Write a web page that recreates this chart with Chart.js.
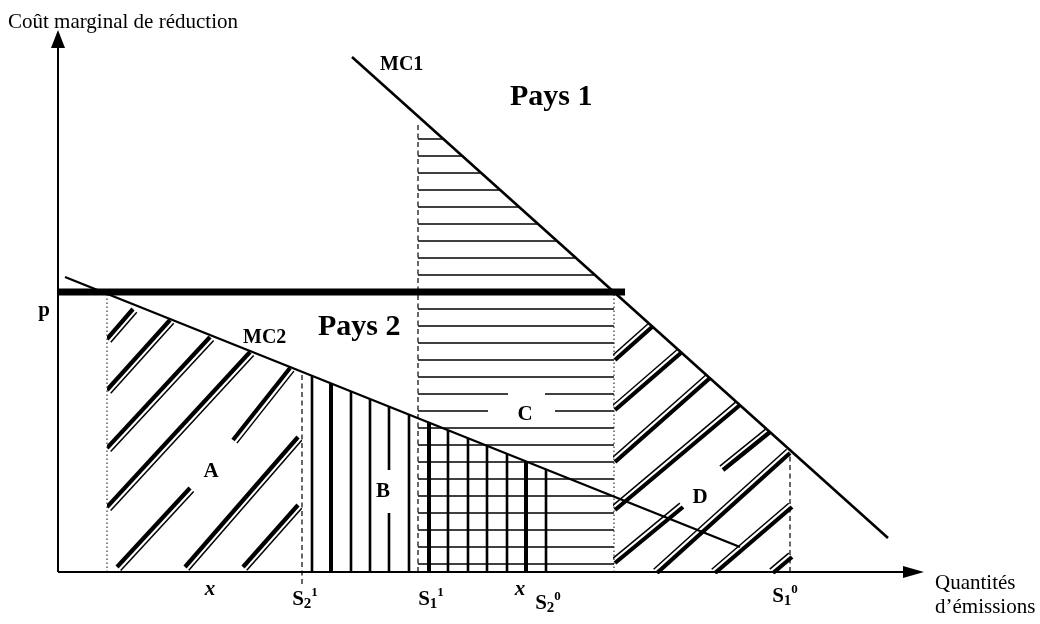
<!DOCTYPE html>
<html><head><meta charset="utf-8">
<script src="https://cdn.jsdelivr.net/npm/chart.js@4.4.1/dist/chart.umd.min.js"></script>
<style>html,body{margin:0;padding:0;background:#fff}canvas{display:block}</style>
</head><body>
<canvas id="c" width="1040" height="624"></canvas>
<script>
// ---------- data (x: quantités d'émissions, y: coût marginal) ----------
const mc1 = [{x:294,y:515},{x:830,y:34}];
const mc2 = [{x:7,y:295},{x:682,y:25}];
const priceLevel = 280;
const priceEndX = 567;
const dottedX = [49, 556];
const dottedTop = [278, 280];
const dashedX = [244, 360, 732];
const dashedTop = [200, 450, 118];
const dashedBottom = [-12, 0, 0];
// Zone C : horizontal hatch levels
const cLevels = [433,416,399,382,365,348,331,314,297,263,246,229,212,195,178,161,144,127,110,93,76,59,42,25,8];
const cGaps = [{y:178,x1:450,x2:487},{y:161,x1:430,x2:497}];
// Zone B : vertical hatch positions
const bLinesX = [254,273,293,312,331,351,371,390,410,429,449,468,488];
const bHeavyX = [273,371,468];
const bGaps = [{x:331,y1:59,y2:102}];
// Zone A : double diagonal hatch segments [x1,y1,x2,y2]
const hatchA = [[49,233,75,263],[49,182,112,252],[49,124,152,235],[49,65,192,220],
  [175,132,232,204],[59,5,132,84],[127,5,240,135],[185,5,240,67]];
// Zone D : double diagonal hatch segments [x1,y1,x2,y2]
const hatchD = [[557,212,594,245],[557,162,624,220],[557,110,652,194],[557,62,682,167],
  [665,102,712,140],[557,9,625,65],[599,-1,732,119],[657,-1,734,65],[715,-1,734,15]];
// axis marks
const markLabels = [['x'],['S','2','1'],['S','1','1'],['x'],['S','2','0'],['S','1','0']];
const markValues = [152,247,373,462,490,727];
const markDrop = [23,33,33,23,37,30];
// annotations [text, x, y(baseline), kind]
const annotations = [
  ['Coût marginal de réduction',-50,544,'axis'],
  ['Quantités',877,-17,'axis'],
  ['d\u2019émissions',877,-41,'axis'],
  ['p',-14,256,'lab'],
  ['MC1',322,502,'mc'],
  ['MC2',185,229,'mc'],
  ['Pays 1',452,467,'big'],
  ['Pays 2',260,237,'big'],
  ['A',153,95,'zone'],['B',325,75,'zone'],['C',467,152,'zone'],['D',642,69,'zone']
];

// ---------- drawing ----------
const SERIF = "'Liberation Serif','Times New Roman',serif";
const fonts = {axis:'21px '+SERIF, lab:'bold 21px '+SERIF, mc:'bold 20px '+SERIF, big:'bold 30px '+SERIF, zone:'bold 21px '+SERIF};
const aligns = {axis:'left', lab:'center', mc:'left', big:'left', zone:'center'};

function lineAt(line, x){ const [p,q]=line; return p.y + (q.y-p.y)*(x-p.x)/(q.x-p.x); }
function under(line, x0, x1, bottom){ return [{x:x0,y:bottom},{x:x0,y:lineAt(line,x0)},{x:x1,y:lineAt(line,x1)},{x:x1,y:bottom}]; }
function rect(x0,x1,y0,y1){ return [{x:x0,y:y0},{x:x1,y:y0},{x:x1,y:y1},{x:x0,y:y1}]; }

const diagram = {
  id:'diagram',
  beforeDatasetsDraw(chart){
    const ctx = chart.ctx, sx = chart.scales.x, sy = chart.scales.y;
    const P = (x,y) => [sx.getPixelForValue(x), sy.getPixelForValue(y)];
    const clip = pts => { ctx.beginPath(); pts.forEach((p,i)=>{const [a,b]=P(p.x,p.y); i?ctx.lineTo(a,b):ctx.moveTo(a,b);}); ctx.closePath(); ctx.clip(); };
    const seg = (x0,y0,x1,y1,w) => { const [a,b]=P(x0,y0), [c,d]=P(x1,y1); ctx.lineWidth=w; ctx.beginPath(); ctx.moveTo(a,b); ctx.lineTo(c,d); ctx.stroke(); };
    ctx.save(); ctx.strokeStyle='#000'; ctx.lineCap='butt';

    // Zone C horizontals
    ctx.save(); clip(under(mc1,360,556,0));
    cLevels.forEach(y=>{
      const gaps = cGaps.filter(g=>g.y===y).sort((a,b)=>a.x1-b.x1);
      let x = 360;
      gaps.forEach(g=>{ seg(x,y,g.x1,y,1.6); x = g.x2; });
      seg(x,y,556,y,1.6);
    });
    ctx.restore();

    // Zone B verticals
    ctx.save(); clip(under(mc2,240,500,0));
    bLinesX.forEach(x=>{
      const w = bHeavyX.includes(x) ? 4 : 2.6;
      const gaps = bGaps.filter(g=>g.x===x).sort((a,b)=>a.y1-b.y1);
      let y = 0;
      gaps.forEach(g=>{ seg(x,y,x,g.y1,w); y = g.y2; });
      seg(x,y,x,400,w);
    });
    ctx.restore();

    // double diagonal hatches
    const dbl = (segs, side, poly) => {
      ctx.save(); clip(poly);
      segs.forEach(s=>{
        const [a,b]=P(s[0],s[1]), [c,d]=P(s[2],s[3]);
        const len = Math.hypot(c-a,d-b), nx = -(d-b)/len*side*5, ny = (c-a)/len*side*5;
        ctx.lineWidth=4.2; ctx.beginPath(); ctx.moveTo(a,b); ctx.lineTo(c,d); ctx.stroke();
        ctx.lineWidth=1.5; ctx.beginPath(); ctx.moveTo(a+nx,b+ny); ctx.lineTo(c+nx,d+ny); ctx.stroke();
      });
      ctx.restore();
    };
    dbl(hatchA, 1, rect(49,246,0,400));
    dbl(hatchD, -1, under(mc1,555,736,-2));
    ctx.restore();
  },
  afterDatasetsDraw(chart){
    const ctx = chart.ctx, sx = chart.scales.x, sy = chart.scales.y;
    const P = (x,y) => [sx.getPixelForValue(x), sy.getPixelForValue(y)];
    ctx.save(); ctx.fillStyle='#000';
    // arrowheads
    let [a,b]=P(0,542), [c,d]=P(0,524);
    ctx.beginPath(); ctx.moveTo(a,b); ctx.lineTo(c-7,d); ctx.lineTo(c+7,d); ctx.closePath(); ctx.fill();
    [a,b]=P(866,0); [c,d]=P(845,0);
    ctx.beginPath(); ctx.moveTo(a,b); ctx.lineTo(c,d-6); ctx.lineTo(c,d+6); ctx.closePath(); ctx.fill();
    // annotations
    ctx.textBaseline='alphabetic';
    annotations.forEach(([t,x,y,k])=>{
      ctx.font = fonts[k]; ctx.textAlign = aligns[k];
      const [px,py]=P(x,y); ctx.fillText(t,px,py);
    });
    // axis marks
    const axisY = sy.getPixelForValue(0);
    ctx.textAlign='left';
    markLabels.forEach((parts,i)=>{
      const cx = sx.getPixelForValue(markValues[i]), base = axisY + markDrop[i];
      if (parts.length===1){
        ctx.font = 'italic bold 21px '+SERIF; ctx.textAlign='center';
        ctx.fillText(parts[0], cx, base); ctx.textAlign='left'; return;
      }
      const fMain='bold 21px '+SERIF, fSub='bold 15px '+SERIF, fSup='bold 13px '+SERIF;
      ctx.font=fMain; const w0=ctx.measureText(parts[0]).width;
      ctx.font=fSub; const w1=ctx.measureText(parts[1]).width;
      ctx.font=fSup; const w2=ctx.measureText(parts[2]).width;
      let x0 = cx - (w0+w1+w2)/2;
      ctx.font=fMain; ctx.fillText(parts[0],x0,base);
      ctx.font=fSub; ctx.fillText(parts[1],x0+w0,base+3);
      ctx.font=fSup; ctx.fillText(parts[2],x0+w0+w1,base-9);
    });
    ctx.restore();
  }
};

const line = (data, w, extra) => Object.assign({data, showLine:true, borderColor:'#000', borderWidth:w, pointRadius:0, fill:false, clip:false, borderCapStyle:'butt'}, extra||{});
const datasets = [
  line([{x:0,y:priceLevel},{x:priceEndX,y:priceLevel}], 7),
  line(mc1, 2.6),
  line(mc2, 2.4),
  line([{x:0,y:0},{x:0,y:526}], 2),
  line([{x:0,y:0},{x:848,y:0}], 2),
];
dottedX.forEach((x,i)=>datasets.push(line([{x,y:0},{x,y:dottedTop[i]}],1.2,{borderDash:[1.5,2.5], borderColor:'#333'})));
dashedX.forEach((x,i)=>datasets.push(line([{x,y:dashedBottom[i]},{x,y:dashedTop[i]}],1.2,{borderDash:[5,3.5]})));

new Chart(document.getElementById('c'), {
  type:'scatter',
  data:{datasets},
  options:{
    responsive:false, animation:false, devicePixelRatio:1,
    layout:{padding:{left:58, right:112, top:28, bottom:22}},
    plugins:{legend:{display:false}, tooltip:{enabled:false}},
    scales:{
      x:{type:'linear', min:0, max:870, display:false},
      y:{type:'linear', min:-30, max:544, display:false}
    }
  },
  plugins:[diagram]
});
</script>
</body></html>
